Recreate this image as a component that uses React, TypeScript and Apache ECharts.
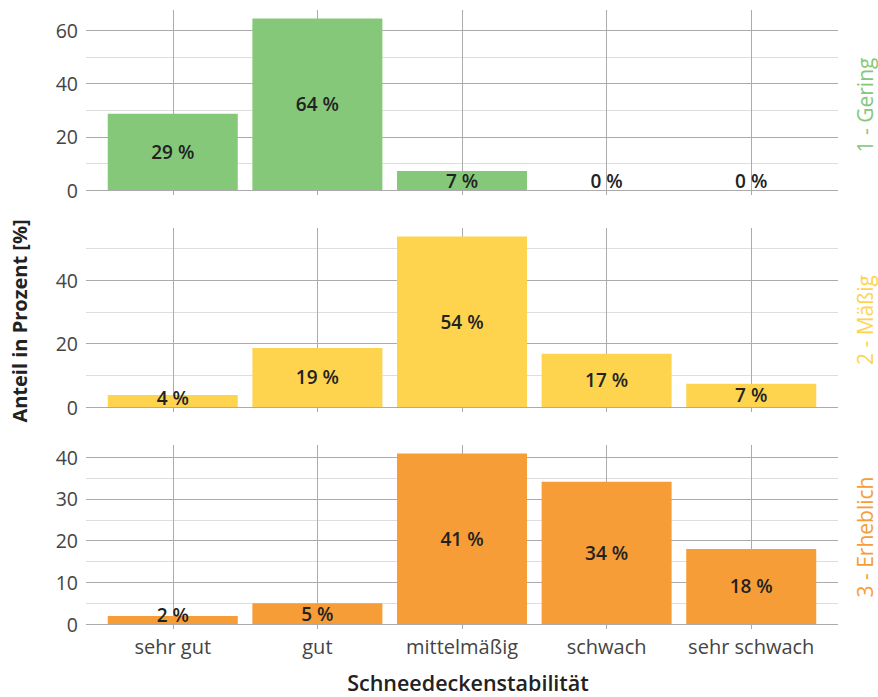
import React, { useEffect, useRef } from "react";
import * as echarts from "echarts";

const categories = ["sehr gut", "gut", "mittelmäßig", "schwach", "sehr schwach"];
const panelNames = ["1 - Gering", "2 - Mäßig", "3 - Erheblich"];
const geringValues = [28.6, 64.4, 7.1, 0, 0];
const maessigValues = [3.8, 18.6, 53.7, 16.8, 7.3];
const erheblichValues = [1.9, 5.0, 40.9, 34.1, 18.0];
const panelColors = ["#85c879", "#fed44f", "#f69d37"];
const majorSteps = [20, 20, 10];
const xTitle = "Schneedeckenstabilität";
const yTitle = "Anteil in Prozent [%]";

const FONT = "'Open Sans', 'Noto Sans', sans-serif";
const MAJOR = "#ababab";
const MINOR = "#dedede";

export default function App() {
  const ref = useRef<HTMLDivElement>(null);
  useEffect(() => {
    if (!ref.current) return;
    const chart = echarts.init(ref.current, undefined, { renderer: "svg" });
    const allValues = [geringValues, maessigValues, erheblichValues];
    const tops = [10, 228, 445];
    const heights = [180, 179, 179];
    const catIdx = categories.map((_, i) => i);

    const grid = tops.map((t, i) => ({ left: 86, right: 40, top: t, height: heights[i] }));
    const xAxis = tops.map((_, i) => ({
      type: "value",
      gridIndex: i,
      min: -0.6,
      max: 4.6,
      axisLine: { show: false },
      axisTick: { show: true, customValues: catIdx, length: 5, lineStyle: { color: MAJOR } },
      splitLine: { show: true, lineStyle: { color: MAJOR, width: 1 } },
      axisLabel: {
        show: i === 2,
        customValues: catIdx,
        formatter: (v: number) => categories[Math.round(v)] ?? "",
        color: "#444444",
        fontFamily: FONT,
        fontSize: 20,
        margin: 12,
      },
    }));
    const yAxis = allValues.map((vals, i) => {
      const max = Math.max(...vals) * 1.05;
      const major = majorSteps[i];
      return {
        type: "value",
        gridIndex: i,
        min: 0,
        max: max,
        interval: major / 2,
        axisLine: { show: false },
        axisTick: { show: false },
        splitLine: { show: true, showMaxLine: false, lineStyle: { color: [MAJOR, MINOR], width: 1 } },
        axisLabel: {
          showMaxLabel: false,
          formatter: (v: number) => (Math.abs(v % major) < 1e-6 ? String(v) : ""),
          color: "#444444",
          fontFamily: FONT,
          fontSize: 19.5,
          margin: 8,
        },
      };
    });
    const series = allValues.map((vals, i) => {
      const max = Math.max(...vals) * 1.05;
      return {
        type: "bar",
        xAxisIndex: i,
        yAxisIndex: i,
        barWidth: 130,
        itemStyle: { color: panelColors[i] },
        z: 3,
        data: vals.map((v, k) => ({
          value: [k, v],
          label: {
            position: (v / max) * heights[i] < 20 ? "insideBottom" : "inside",
            distance: 0,
          },
        })),
        label: {
          show: true,
          formatter: (p: any) => Math.round(p.value[1]) + " %",
          fontFamily: FONT,
          fontWeight: 600,
          fontSize: 19,
          color: "#222222",
        },
      };
    });
    const stripCenters = [105, 320, 537];
    const graphic: any[] = [
      {
        type: "text",
        x: 19,
        y: 321,
        rotation: Math.PI / 2,
        style: {
          text: yTitle,
          fontFamily: FONT,
          fontWeight: "bold",
          fontSize: 20,
          fill: "#222222",
          align: "center",
          verticalAlign: "middle",
        },
      },
      {
        type: "text",
        x: 468,
        y: 682,
        style: {
          text: xTitle,
          fontFamily: FONT,
          fontWeight: 600,
          fontSize: 21.5,
          fill: "#222222",
          align: "center",
          verticalAlign: "middle",
        },
      },
      ...panelNames.map((n, i) => ({
        type: "text",
        x: 865,
        y: stripCenters[i],
        rotation: Math.PI / 2,
        style: {
          text: n,
          fontFamily: FONT,
          fontSize: 21,
          fill: panelColors[i],
          align: "center",
          verticalAlign: "middle",
        },
      })),
    ];

    chart.setOption({
      animation: false,
      backgroundColor: "#ffffff",
      textStyle: { fontFamily: FONT },
      grid,
      xAxis,
      yAxis,
      series,
      graphic,
    } as any);
    return () => chart.dispose();
  }, []);
  return <div ref={ref} style={{ width: 878, height: 697, position: "absolute", left: 0, top: 0 }} />;
}
